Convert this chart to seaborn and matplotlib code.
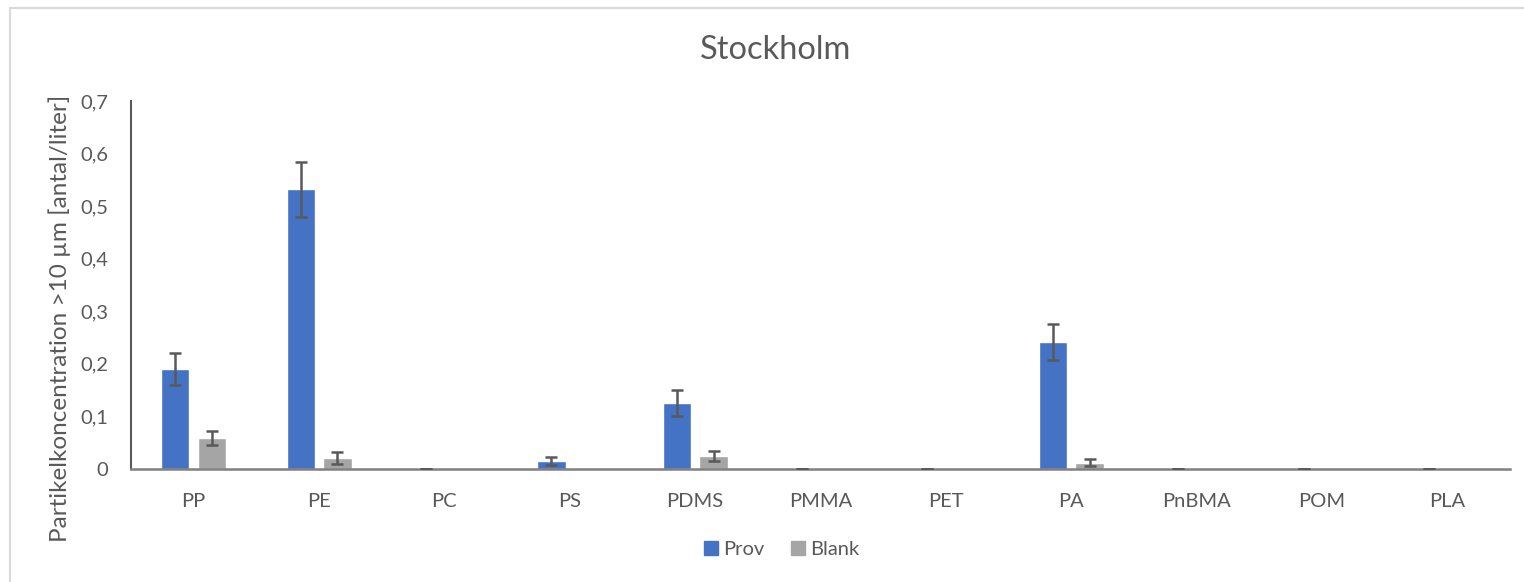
import numpy as np
import pandas as pd
import matplotlib
matplotlib.use("Agg")
import matplotlib.pyplot as plt
import seaborn as sns
from matplotlib.patches import Rectangle
from matplotlib.lines import Line2D

# Polymer types and measured concentrations (particles per liter, >10 µm)
categories = ["PP", "PE", "PC", "PS", "PDMS", "PMMA", "PET", "PA", "PnBMA", "POM", "PLA"]
prov = [0.19, 0.532, 0.0, 0.015, 0.125, 0.0, 0.0, 0.241, 0.0, 0.0, 0.0]
prov_err = [0.03, 0.052, 0.0, 0.007, 0.025, 0.0, 0.0, 0.034, 0.0, 0.0, 0.0]
blank = [0.059, 0.021, 0.0, 0.0, 0.025, 0.0, 0.0, 0.012, 0.0, 0.0, 0.0]
blank_err = [0.014, 0.011, np.nan, np.nan, 0.009, np.nan, np.nan, 0.007, np.nan, np.nan, np.nan]
series = ["Prov", "Blank"]
yticks = [0, 0.1, 0.2, 0.3, 0.4, 0.5, 0.6, 0.7]

sns.set_theme(style="white")
plt.rcParams["font.family"] = ["Lato", "DejaVu Sans"]

txt = "#595959"
colors = {"Prov": "#4472C4", "Blank": "#A5A5A5"}

df = pd.DataFrame({
    "Polymer": categories * 2,
    "Serie": ["Prov"] * len(categories) + ["Blank"] * len(categories),
    "Värde": prov + blank,
})

fig = plt.figure(figsize=(15.24, 5.82), dpi=100)
ax = fig.add_axes([131 / 1524, 1 - 469 / 582, (1510 - 131) / 1524, (469 - 101) / 582])

sns.barplot(data=df, x="Polymer", y="Värde", hue="Serie", order=categories,
            hue_order=series, palette=colors, width=0.586, gap=0.23,
            errorbar=None, saturation=1, legend=False, ax=ax)

# error bars at the bar centres
for cont, vals, errs in zip(ax.containers, [prov, blank], [prov_err, blank_err]):
    xs = [b.get_x() + b.get_width() / 2 for b in cont]
    ax.errorbar(xs, vals, yerr=errs, fmt="none", ecolor="#595959",
                elinewidth=1.8, capsize=4.3, capthick=1.8, zorder=5)

ax.set_ylim(0, 0.7)
ax.set_xlim(-0.5, len(categories) - 0.5)
ax.set_yticks(yticks)
ax.set_yticklabels([f"{v:.1f}".replace(".", ",") if v else "0" for v in yticks])
ax.tick_params(axis="y", direction="in", length=6, width=1.5, color="#595959",
               labelsize=14.5, labelcolor=txt, pad=16.5)
ax.tick_params(axis="x", length=0, labelsize=14.5, labelcolor=txt, pad=17)
ax.set_xlabel("")
ax.set_ylabel("")
for s in ["top", "right"]:
    ax.spines[s].set_visible(False)
ax.spines["left"].set_color("#595959")
ax.spines["left"].set_linewidth(1.5)
ax.spines["bottom"].set_color("#808080")
ax.spines["bottom"].set_linewidth(1.8)

fig.text(776 / 1524, 1 - 50 / 582, "Stockholm", ha="center", va="center",
         fontsize=23.5, color=txt)
fig.text(60 / 1524, 1 - 318 / 582, "Partikelkoncentration >10 µm [antal/liter]",
         rotation=90, ha="center", va="center", fontsize=17.5, color=txt)

handles = [Line2D([], [], marker="s", linestyle="none", markersize=10,
                  markerfacecolor=colors[s], markeredgecolor=colors[s]) for s in series]
fig.legend(handles, series, loc="center", bbox_to_anchor=(780 / 1524, 1 - 549 / 582),
           ncol=2, frameon=False, fontsize=14.5, labelcolor=txt, handletextpad=0.1,
           columnspacing=1.2, handlelength=1.0)

# chart frame
fig.patches.append(Rectangle((10 / 1524, -0.05), 1.2, 1 - 8 / 582 + 0.05,
                             transform=fig.transFigure, fill=False,
                             edgecolor="#D9D9D9", linewidth=1.5))

fig.savefig("out.png", dpi=100)
